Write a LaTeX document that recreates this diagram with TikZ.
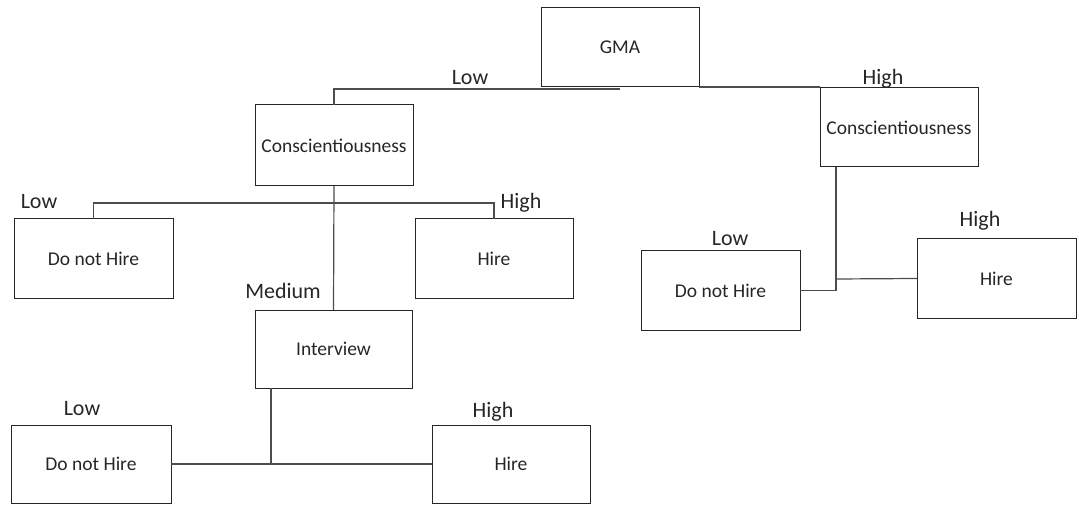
\documentclass[tikz,border=0pt]{standalone}
\usepackage{fontspec}
\setmainfont{Carlito}
\begin{document}
\begin{tikzpicture}[x=1pt, y=-1pt,
    box/.style={draw=black!85, line width=1pt, minimum width=158pt, minimum height=79pt, inner sep=0pt, outer sep=0pt, font=\fontsize{19.5}{22}\selectfont, text=black!85},
    lbl/.style={anchor=base, inner sep=0pt, font=\fontsize{22}{26}\selectfont, text=black!85},
    wire/.style={draw=black!70, line width=1.2pt}]
    \useasboundingbox (0,0) rectangle (1079,505);
    \node[box] (gma) at (620,47.5) {GMA};
    \node[box, minimum height=81pt] (cl) at (334,145.5) {Conscientiousness};
    \node[box] (cr) at (899,127.5) {Conscientiousness};
    \node[box, minimum width=159pt] (dl1) at (93.5,258.5) {Do not Hire};
    \node[box] (hi1) at (494,258.5) {Hire};
    \node[box, minimum width=157pt, minimum height=78pt] (int) at (333.5,349) {Interview};
    \node[box, minimum width=160pt, minimum height=78pt] (dl2) at (91,464) {Do not Hire};
    \node[box, minimum height=78pt] (hi2) at (511,464) {Hire};
    \node[box, minimum width=159pt] (dr) at (720.5,290.5) {Do not Hire};
    \node[box, minimum width=159pt] (hr) at (996.5,278.5) {Hire};
    \node[lbl] (gmalow) at (470,85) {Low};
    \node[lbl] (gmahigh) at (883,85) {High};
    \node[lbl] (cllow) at (39,209) {Low};
    \node[lbl] (clhigh) at (521,209) {High};
    \node[lbl] (clmed) at (283,298) {Medium};
    \node[lbl] (intlow) at (82,415) {Low};
    \node[lbl] (inthigh) at (493,417) {High};
    \node[lbl] (crlow) at (730,245) {Low};
    \node[lbl] (crhigh) at (980,227) {High};
    \coordinate (j1) at (334,203);
    \coordinate (j2) at (271,464);
    \coordinate (j3) at (836,279);
    \draw[wire] (gma.south) ++(0,2) -| (cl.north);
    \draw[wire] (gma.south east) -- (gma.south east -| cr.west);
    \draw[wire] (cl.south) -- (int.north);
    \draw[wire] (dl1.north) |- (j1) -| (hi1.north);
    \draw[wire] (j2 |- int.south) -- (j2);
    \draw[wire] (dl2.east) -- (hi2.west);
    \draw[wire] (j3 |- cr.south) -- (j3 |- dr.east) -- (dr.east);
    \draw[wire] (j3) -- (hr.west);
\end{tikzpicture}
\end{document}
